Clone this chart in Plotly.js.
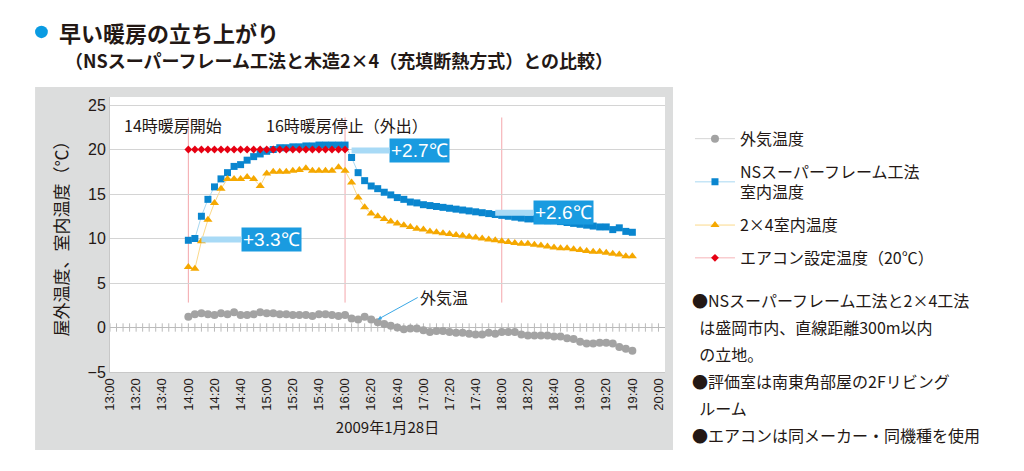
<!DOCTYPE html>
<html>
<head>
<meta charset="utf-8">
<script src="https://cdn.plot.ly/plotly-3.0.1.min.js"></script>
<style>body{margin:0;background:#fff}#chart{width:1024px;height:471px}</style>
</head>
<body>
<div id="chart"></div>
<script>
// 5-minute readings from 14:00 to 19:40
const startTime = "2009-01-28 14:00"
const outsideTemp = [1.2,1.5,1.6,1.5,1.4,1.6,1.5,1.7,1.4,1.4,1.5,1.7,1.6,1.6,1.5,1.5,1.4,1.4,1.4,1.3,1.5,1.5,1.4,1.3,1.4,
    1.0,0.9,1.2,0.9,0.6,0.4,0.2,0.0,-0.2,-0.1,-0.1,-0.3,-0.5,-0.4,-0.4,-0.5,-0.6,-0.6,-0.7,-0.8,-0.8,-0.6,-0.7,-0.5,-0.5,
    -0.5,-0.8,-0.9,-0.9,-0.9,-0.9,-1.0,-1.0,-1.2,-1.3,-1.6,-1.8,-1.8,-1.7,-1.7,-1.8,-2.2,-2.4,-2.6]
const nsTemp = [9.8,10.0,12.5,14.4,15.8,16.7,17.4,18.1,18.3,18.8,19.2,19.5,19.8,20.0,20.2,20.2,20.3,20.3,20.4,20.4,20.5,20.5,20.5,20.5,20.5,
    19.1,17.4,16.5,15.9,15.6,15.2,14.9,14.6,14.4,14.1,14.0,13.8,13.7,13.6,13.5,13.4,13.3,13.2,13.1,13.0,
    12.9,12.8,12.7,12.6,12.5,12.4,12.3,12.2,12.2,12.1,12.0,12.0,11.9,11.8,11.7,11.6,11.5,11.4,11.3,11.3,11.0,11.2,10.8,10.7]
const woodTemp = [6.8,6.6,9.7,12.1,14.0,15.6,16.7,16.7,16.7,16.9,16.7,15.9,17.3,17.5,17.5,17.5,17.6,17.7,17.9,17.6,17.6,17.6,17.6,18.0,17.6,
    16.3,14.6,13.5,12.8,12.5,12.2,11.9,11.7,11.5,11.3,11.1,11.0,10.8,10.7,10.6,10.5,10.4,10.3,10.2,10.1,
    10.0,9.9,9.8,9.7,9.6,9.5,9.4,9.4,9.3,9.2,9.1,9.0,8.9,8.9,8.8,8.7,8.6,8.5,8.5,8.4,8.3,8.2,8.0,8.0]
const setTemp = [20,20,20,20,20,20,20,20,20,20,20,20,20,20,20,20,20,20,20,20,20,20,20,20,20]
const tickLabels = ["13:00","13:20","13:40","14:00","14:20","14:40","15:00","15:20","15:40","16:00","16:20","16:40",
    "17:00","17:20","17:40","18:00","18:20","18:40","19:00","19:20","19:40","20:00"]
const minorTickCount = 84

function timeAt(stepMinutes, i, base) {
    const d = new Date(base.replace(" ", "T"))
    d.setMinutes(d.getMinutes() + stepMinutes * i)
    const p = n => String(n).padStart(2, "0")
    return `2009-01-28 ${p(d.getHours())}:${p(d.getMinutes())}`
}
const times = outsideTemp.map((_, i) => timeAt(5, i, startTime))
const setTimes = setTemp.map((_, i) => times[i])
const tickVals = tickLabels.map(t => "2009-01-28 " + t)
const minorX = Array.from({length: minorTickCount + 1}, (_, i) => timeAt(5, i, "2009-01-28 13:00"))

const font = "Noto Sans CJK JP, sans-serif"
const data = [
    {x: minorX, y: minorX.map(() => 0), mode: "markers", type: "scatter", showlegend: false, hoverinfo: "skip",
        marker: {symbol: "line-ns", size: 6, line: {width: 1, color: "#bbbbbb"}}},
    {name: "外気温度", legendgroup: "a", x: times, y: outsideTemp, mode: "lines+markers", type: "scatter",
        line: {color: "#d6d6d6", width: 1}, marker: {symbol: "circle", size: 8, color: "#a3a3a3"}},
    {name: "NSスーパーフレーム工法<br>室内温度", legendgroup: "b", x: times, y: nsTemp, mode: "lines+markers", type: "scatter",
        line: {color: "#a8d8f2", width: 1}, marker: {symbol: "square", size: 7, color: "#0a86cf"}},
    {name: "2×4室内温度", legendgroup: "c", x: times, y: woodTemp, mode: "lines+markers", type: "scatter",
        line: {color: "#fbd98a", width: 1}, marker: {symbol: "triangle-up", size: 8, color: "#f5a800"}},
    {name: "エアコン設定温度（20℃）", legendgroup: "d", x: setTimes, y: setTemp, mode: "lines+markers", type: "scatter",
        line: {color: "#f6b3b8", width: 1}, marker: {symbol: "diamond", size: 6, color: "#e60012"}}
]

const vline = t => ({type: "line", xref: "x", yref: "y", x0: t, x1: t, y0: 2.8, y1: 23.6,
    line: {color: "#f4a6ab", width: 1}, layer: "below"})
const tag = (x, y, text, ax) => ({x, y, xref: "x", yref: "y", text, showarrow: true, ax, ay: 0,
    arrowhead: 0, arrowwidth: 6, arrowcolor: "#a8daf6", standoff: 0, bgcolor: "#1a9be0",
    font: {color: "#fff", size: 19, family: "Liberation Sans, sans-serif"}, borderpad: 1})
const note = (y, text) => ({xref: "paper", yref: "paper", x: 1.045, y, xanchor: "left", yanchor: "middle",
    align: "left", showarrow: false, text, font: {size: 16, color: "#231815", family: font}})

const layout = {
    width: 1024, height: 471,
    margin: {l: 110, r: 359, t: 97, b: 99},
    paper_bgcolor: "#ffffff", plot_bgcolor: "#ffffff",
    font: {family: font, color: "#231815"},
    xaxis: {type: "date", range: ["2009-01-28 13:00", "2009-01-28 20:05"], tickvals: tickVals, ticktext: tickLabels,
        tickangle: -90, tickfont: {size: 13, family: "Liberation Sans, sans-serif"}, showgrid: false, zeroline: false,
        showline: true, linecolor: "#c8c8c8", ticks: "",
        title: {text: "2009年1月28日", font: {size: 15}, standoff: 12}},
    yaxis: {range: [-5, 25.9], tickvals: [-5, 0, 5, 10, 15, 20, 25], gridcolor: "#d4d4d4", zeroline: true,
        zerolinecolor: "#bbbbbb", showline: true, linecolor: "#c8c8c8",
        tickfont: {size: 16, family: "Liberation Sans, sans-serif"}, ticks: "",
        title: {text: "屋外温度、室内温度（℃）", font: {size: 17}, standoff: 14}},
    legend: {x: 1.045, y: 0.91, xanchor: "left", yanchor: "top", font: {size: 16}, tracegroupgap: 9,
        bgcolor: "rgba(0,0,0,0)", itemwidth: 40},
    shapes: [
        {type: "rect", xref: "paper", yref: "paper", x0: -0.135, x1: 1.0144, y0: -0.284, y1: 1.036,
            fillcolor: "#dcdddd", line: {width: 0}, layer: "below"},
        {type: "rect", xref: "paper", yref: "paper", x0: 0, x1: 1, y0: 0, y1: 1,
            fillcolor: "#ffffff", line: {width: 0}, layer: "below"},
        vline("2009-01-28 14:00"), vline("2009-01-28 16:00"), vline("2009-01-28 18:00"),
        {type: "circle", xref: "paper", yref: "paper", x0: -0.135, x1: -0.112, y0: 1.214, y1: 1.259,
            fillcolor: "#0a9be2", line: {width: 0}}
    ],
    annotations: [
        {xref: "paper", yref: "paper", x: -0.095, y: 1.238, xanchor: "left", yanchor: "middle", showarrow: false,
            text: "<b>早い暖房の立ち上がり</b>", font: {size: 22, color: "#231815"}},
        {xref: "paper", yref: "paper", x: -0.085, y: 1.136, xanchor: "left", yanchor: "middle", showarrow: false,
            text: "<b>（NSスーパーフレーム工法と木造2×4（充填断熱方式）との比較）</b>", font: {size: 18, color: "#231815"}},
        {xref: "paper", yref: "paper", x: 0.022, y: 0.95, xanchor: "left", showarrow: false,
            text: "14時暖房開始", font: {size: 16}},
        {xref: "paper", yref: "paper", x: 0.278, y: 0.95, xanchor: "left", showarrow: false,
            text: "16時暖房停止（外出）", font: {size: 16}},
        {xref: "x", yref: "y", x: "2009-01-28 16:25", y: 0.9, text: "外気温", showarrow: true, ax: 40, ay: -22,
            arrowhead: 2, arrowsize: 0.8, arrowwidth: 1, arrowcolor: "#3aa8e6", xanchor: "left", font: {size: 16}},
        tag("2009-01-28 14:10", 9.9, "+3.3℃", 70),
        tag("2009-01-28 16:05", 19.9, "+2.7℃", 68),
        tag("2009-01-28 17:55", 12.9, "+2.6℃", 68),
        note(0.262, "●NSスーパーフレーム工法と2×4工法"),
        note(0.164, "  は盛岡市内、直線距離300m以内"),
        note(0.065, "  の立地。"),
        note(-0.033, "●評価室は南東角部屋の2Fリビング"),
        note(-0.131, "  ルーム"),
        note(-0.229, "●エアコンは同メーカー・同機種を使用")
    ]
}

Plotly.newPlot("chart", data, layout, {displayModeBar: false, staticPlot: true})
</script>
</body>
</html>
